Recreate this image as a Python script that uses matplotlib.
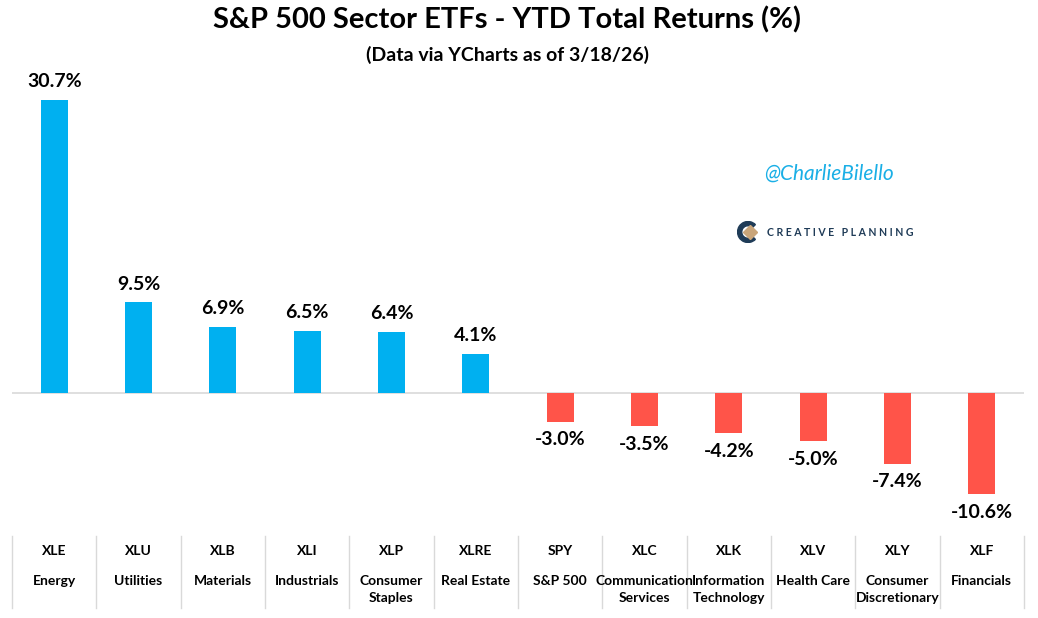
import numpy as np
import matplotlib.pyplot as plt
from matplotlib.patches import Wedge

tickers = ['XLE', 'XLU', 'XLB', 'XLI', 'XLP', 'XLRE', 'SPY', 'XLC', 'XLK', 'XLV', 'XLY', 'XLF']
sectors = ['Energy', 'Utilities', 'Materials', 'Industrials', 'Consumer\nStaples', 'Real Estate',
           'S&P 500', 'Communication\nServices', 'Information\nTechnology', 'Health Care',
           'Consumer\nDiscretionary', 'Financials']
returns = [30.7, 9.5, 6.9, 6.5, 6.4, 4.1, -3.0, -3.5, -4.2, -5.0, -7.4, -10.6]

plt.rcParams['font.family'] = ['Lato', 'DejaVu Sans']

W, H = 1038, 618
fig = plt.figure(figsize=(W / 100, H / 100), dpi=100)

# axes placed in pixel terms
left_px, right_px = 12, 1024
top_px, bot_px = 80, 520
ax = fig.add_axes([left_px / W, 1 - bot_px / H, (right_px - left_px) / W, (bot_px - top_px) / H])

x = np.arange(len(tickers))
colors = ['#00B0F0' if v >= 0 else '#FF5449' for v in returns]
ax.bar(x, returns, width=0.32, color=colors, zorder=2)
ax.axhline(0, color='#d9d9d9', lw=1.2, zorder=1)
ax.set_xlim(-0.5, len(tickers) - 0.5)
ax.set_ylim(-13.3, 32.8)
ax.axis('off')

for xi, v in zip(x, returns):
    if v >= 0:
        ax.annotate(f'{v:.1f}%', (xi, v), xytext=(0, 7), textcoords='offset points',
                    ha='center', va='bottom', fontsize=14, fontweight='bold')
    else:
        ax.annotate(f'{v:.1f}%', (xi, v), xytext=(0, -7), textcoords='offset points',
                    ha='center', va='top', fontsize=14, fontweight='bold')

# category table below the chart
trans = ax.get_xaxis_transform()
def fy(py):
    # pixel-from-top -> axes y fraction
    return (bot_px - py) / (bot_px - top_px)

for i in range(len(tickers) + 1):
    ax.plot([i - 0.5, i - 0.5], [fy(536), fy(608)], transform=trans, color='#d9d9d9',
            lw=1, clip_on=False)
for xi, t, s in zip(x, tickers, sectors):
    ax.text(xi, fy(551), t, transform=trans, ha='center', va='center', fontsize=10,
            fontweight='bold', clip_on=False)
    ax.text(xi, fy(575), s, transform=trans, ha='center', va='top', fontsize=10,
            fontweight='bold', linespacing=1.45, clip_on=False)

fig.text(507 / W, 1 - 20 / H, 'S&P 500 Sector ETFs - YTD Total Returns (%)', ha='center',
         va='center', fontsize=21, fontweight='bold')
fig.text(507 / W, 1 - 55 / H, '(Data via YCharts as of 3/18/26)', ha='center', va='center',
         fontsize=14, fontweight='bold')

fig.text(829 / W, 1 - 174 / H, '@CharlieBilello', ha='center', va='center', fontsize=15,
         style='italic', color='#1AAFE6')
fig.text(840 / W, 1 - 232 / H, 'C R E A T I V E   P L A N N I N G', ha='center', va='center',
         fontsize=7.6, fontweight='bold', color='#1F3B57')

# small logo mark
lx = fig.add_axes([(737) / W, 1 - 244 / H, 22 / W, 24 / H])
lx.set_xlim(-1, 1)
lx.set_ylim(-1, 1)
lx.set_aspect('equal')
lx.axis('off')
lx.add_patch(Wedge((0, 0), 0.95, 45, 315, width=0.38, color='#1F3B57'))
lx.plot([0.15], [0], marker='D', ms=7, color='#C9A57A')

fig.savefig('out.png', dpi=100, facecolor='white')
